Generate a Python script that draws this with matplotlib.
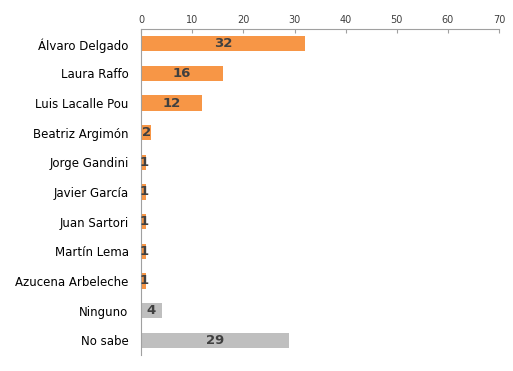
import matplotlib.pyplot as plt

names = ["Álvaro Delgado", "Laura Raffo", "Luis Lacalle Pou", "Beatriz Argimón",
         "Jorge Gandini", "Javier García", "Juan Sartori", "Martín Lema",
         "Azucena Arbeleche", "Ninguno", "No sabe"]
values = [32, 16, 12, 2, 1, 1, 1, 1, 1, 4, 29]
colors = ["#F79646"] * 9 + ["#BFBFBF"] * 2

fig = plt.figure(figsize=(5.13, 3.71), dpi=100)
ax = fig.add_axes([0.275, 0.043, 0.698, 0.879])

y = list(range(len(names)))
ax.barh(y, values, height=0.52, color=colors)
for yi, v in zip(y, values):
    ax.text(v / 2, yi, str(v), ha="center", va="center", fontsize=9.5,
            fontweight="bold", color="#404040")

ax.set_xlim(0, 70)
ax.set_ylim(len(names) - 0.5, -0.5)
ax.set_xticks(range(0, 71, 10))
ax.xaxis.tick_top()
ax.tick_params(axis="x", direction="in", length=3, color="#A0A0A0",
               labelsize=7, labelcolor="#404040", pad=3)
ax.set_yticks(y)
ax.set_yticklabels(names, fontsize=8.5)
ax.tick_params(axis="y", length=0, pad=9)
for s in ["right", "bottom"]:
    ax.spines[s].set_visible(False)
ax.spines["top"].set_color("#A0A0A0")
ax.spines["left"].set_color("#A0A0A0")

fig.savefig("out.png", dpi=100)
